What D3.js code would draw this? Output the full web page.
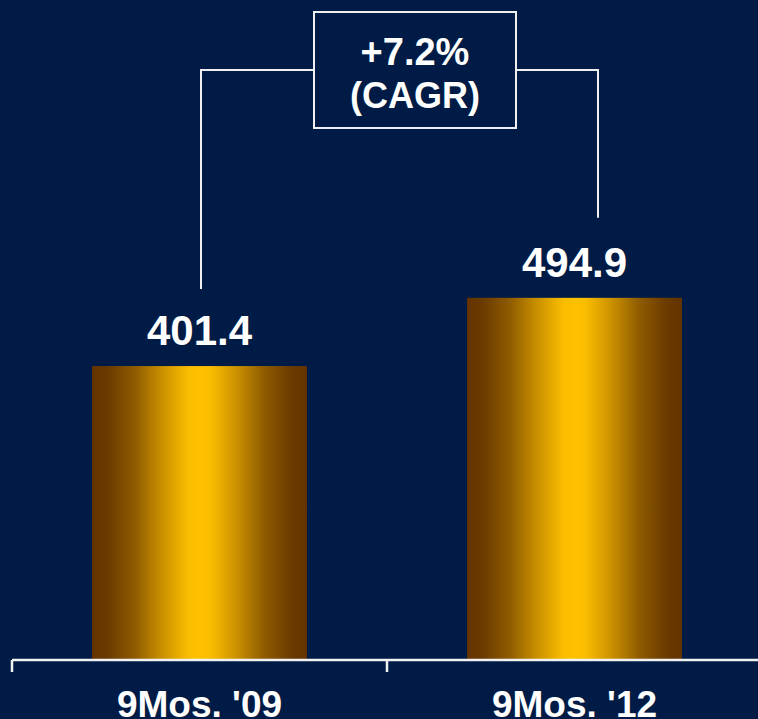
<!DOCTYPE html>
<html>
<head>
<meta charset="utf-8">
<script src="https://cdn.jsdelivr.net/npm/d3@7"></script>
<style>
  html, body { margin: 0; padding: 0; background: #001c46; }
  svg { display: block; }
  text { font-family: "Liberation Sans", Arial, Helvetica, sans-serif; font-weight: bold; fill: #ffffff; }
</style>
</head>
<body>
<svg id="chart" width="758" height="719"></svg>
<script>
const categories = ["9Mos. '09", "9Mos. '12"];
const values = [401.4, 494.9];
const valueLabels = ["401.4", "494.9"];
const cagrLines = ["+7.2%", "(CAGR)"];

const W = 758, H = 719;
const svg = d3.select("#chart");
svg.append("rect").attr("width", W).attr("height", H).attr("fill", "#001c46");

const defs = svg.append("defs");
const grad = defs.append("linearGradient").attr("id", "gold")
  .attr("x1", "0%").attr("x2", "100%").attr("y1", "0%").attr("y2", "0%");
[[0, "#653300"], [0.07, "#6a3a00"], [0.2, "#8f5c00"], [0.33, "#cc9200"], [0.45, "#fbbd00"], [0.5, "#ffc000"],
 [0.55, "#fbbd00"], [0.67, "#cc9200"], [0.8, "#8f5c00"], [0.93, "#6a3a00"], [1, "#653300"]]
  .forEach(([o, c]) => grad.append("stop").attr("offset", o).attr("stop-color", c));

const x = d3.scaleBand().domain(categories).range([12, 762]).paddingInner(0).paddingOuter(0);
const y = d3.scaleLinear().domain([0, 903]).range([659, 0]);
const barW = x.bandwidth() * 0.573;

// bars
svg.selectAll("rect.bar").data(values).enter().append("rect")
  .attr("class", "bar")
  .attr("x", (d, i) => x(categories[i]) + (x.bandwidth() - barW) / 2)
  .attr("y", d => y(d))
  .attr("width", barW)
  .attr("height", d => y(0) - y(d))
  .attr("fill", "url(#gold)");

// value labels
svg.selectAll("text.val").data(values).enter().append("text")
  .attr("class", "val")
  .attr("x", (d, i) => x(categories[i]) + x.bandwidth() / 2)
  .attr("y", d => y(d) - 21)
  .attr("text-anchor", "middle")
  .attr("font-size", 42)
  .text((d, i) => valueLabels[i]);

// axis
const axisY = y(0) + 1;
svg.append("line")
  .attr("x1", x.range()[0]).attr("x2", x.range()[1])
  .attr("y1", axisY).attr("y2", axisY)
  .attr("stroke", "#f2f2f2").attr("stroke-width", 2.5);
svg.selectAll("line.tick").data(categories.concat(["end"])).enter().append("line")
  .attr("class", "tick")
  .attr("x1", d => d === "end" ? x.range()[1] : x(d))
  .attr("x2", d => d === "end" ? x.range()[1] : x(d))
  .attr("y1", axisY).attr("y2", axisY + 12)
  .attr("stroke", "#f2f2f2").attr("stroke-width", 2.5);

// category labels (partly cut by the bottom edge, as in the reference)
svg.selectAll("text.cat").data(categories).enter().append("text")
  .attr("class", "cat")
  .attr("x", d => x(d) + x.bandwidth() / 2)
  .attr("y", 717)
  .attr("text-anchor", "middle")
  .attr("font-size", 37)
  .text(d => d);

// CAGR bracket
const c0 = x(categories[0]) + x.bandwidth() / 2 + 1.5;
const c1 = x(categories[1]) + x.bandwidth() / 2 + 23.5;
const boxL = 314, boxR = 516, boxT = 12, boxB = 128, bracketY = 70;
svg.append("path")
  .attr("d", `M${c0},${y(values[0]) - 77} V${bracketY} H${boxL}`)
  .attr("fill", "none").attr("stroke", "#f0f0f0").attr("stroke-width", 2);
svg.append("path")
  .attr("d", `M${boxR},${bracketY} H${c1} V${y(values[1]) - 80}`)
  .attr("fill", "none").attr("stroke", "#f0f0f0").attr("stroke-width", 2);
svg.append("rect")
  .attr("x", boxL).attr("y", boxT).attr("width", boxR - boxL).attr("height", boxB - boxT)
  .attr("fill", "#001c46").attr("stroke", "#f0f0f0").attr("stroke-width", 2);
svg.selectAll("text.cagr").data(cagrLines).enter().append("text")
  .attr("class", "cagr")
  .attr("x", (boxL + boxR) / 2)
  .attr("y", (d, i) => i === 0 ? 65 : 108)
  .attr("text-anchor", "middle")
  .attr("font-size", (d, i) => i === 0 ? 38 : 36)
  .text(d => d);
</script>
</body>
</html>
